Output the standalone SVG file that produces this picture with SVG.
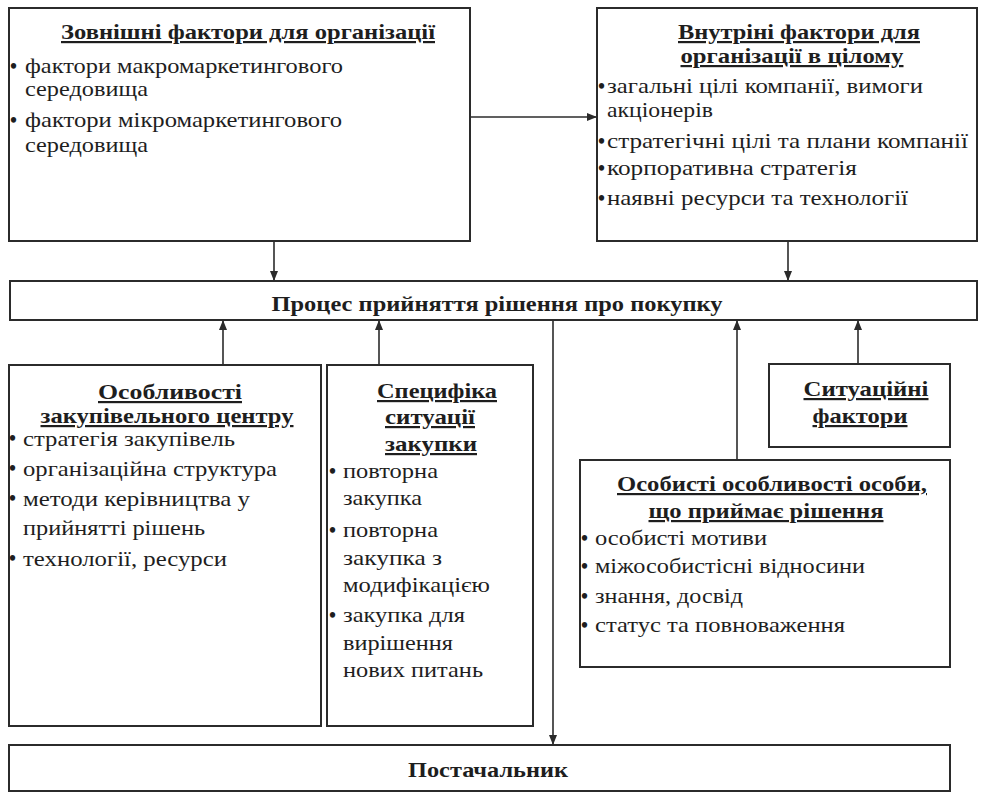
<svg xmlns="http://www.w3.org/2000/svg" width="981" height="792" viewBox="0 0 981 792">
<style>
.box{fill:#fff;stroke:#2b2b2b;stroke-width:2}
.t{font-family:"Liberation Serif","Times New Roman",serif;font-size:22px;fill:#1e1e1e}
.h{font-family:"Liberation Serif","Times New Roman",serif;font-size:22px;font-weight:bold;fill:#1e1e1e;text-decoration:underline;text-anchor:middle}
.b{font-family:"Liberation Serif","Times New Roman",serif;font-size:22px;font-weight:bold;fill:#1e1e1e;text-anchor:middle}
.bul{font-family:"Liberation Serif",serif;font-size:20px;font-weight:bold;fill:#1e1e1e}
.c{fill:none;stroke:#2b2b2b;stroke-width:1.6}
</style>
<defs>
<marker id="ar" markerUnits="userSpaceOnUse" markerWidth="10" markerHeight="10" refX="10" refY="5" orient="auto">
<path d="M0,1 L10,5 L0,9 Z" fill="#2b2b2b"/>
</marker>
</defs>
<rect width="981" height="792" fill="#fff"/>

<g id="connectors">
<path class="c" d="M470,117 H597" marker-end="url(#ar)"/>
<path class="c" d="M274,241 V281" marker-end="url(#ar)"/>
<path class="c" d="M788,241 V281" marker-end="url(#ar)"/>
<path class="c" d="M223,365 V320" marker-end="url(#ar)"/>
<path class="c" d="M379,365 V320" marker-end="url(#ar)"/>
<path class="c" d="M737,460 V320" marker-end="url(#ar)"/>
<path class="c" d="M858,364 V320" marker-end="url(#ar)"/>
<path class="c" d="M553,320 V745" marker-end="url(#ar)"/>
</g>

<g id="external">
<rect class="box" x="9" y="8" width="461" height="233"/>
<text class="h" x="248" y="39" textLength="374" lengthAdjust="spacingAndGlyphs">Зовнішні фактори для організації</text>
<text class="bul" x="10" y="73">•</text>
<text class="t" x="25" y="73" textLength="318" lengthAdjust="spacingAndGlyphs">фактори макромаркетингового</text>
<text class="t" x="25" y="96" textLength="123" lengthAdjust="spacingAndGlyphs">середовища</text>
<text class="bul" x="10" y="127">•</text>
<text class="t" x="25" y="127" textLength="317" lengthAdjust="spacingAndGlyphs">фактори мікромаркетингового</text>
<text class="t" x="25" y="152" textLength="123" lengthAdjust="spacingAndGlyphs">середовища</text>
</g>

<g id="internal">
<rect class="box" x="597" y="8" width="380" height="233"/>
<text class="h" x="799" y="39" textLength="242" lengthAdjust="spacingAndGlyphs">Внутріні фактори для</text>
<text class="h" x="792" y="63" textLength="223" lengthAdjust="spacingAndGlyphs">організації в цілому</text>
<text class="bul" x="598" y="93">•</text>
<text class="t" x="607" y="93" textLength="316" lengthAdjust="spacingAndGlyphs">загальні цілі компанії, вимоги</text>
<text class="t" x="607" y="117" textLength="106" lengthAdjust="spacingAndGlyphs">акціонерів</text>
<text class="bul" x="598" y="148">•</text>
<text class="t" x="607" y="148" textLength="361" lengthAdjust="spacingAndGlyphs">стратегічні цілі та плани компанії</text>
<text class="bul" x="598" y="175">•</text>
<text class="t" x="607" y="175" textLength="250" lengthAdjust="spacingAndGlyphs">корпоративна стратегія</text>
<text class="bul" x="598" y="205">•</text>
<text class="t" x="607" y="205" textLength="301" lengthAdjust="spacingAndGlyphs">наявні ресурси та технології</text>
</g>

<g id="process">
<rect class="box" x="10" y="281" width="967" height="39"/>
<text class="b" x="497" y="311" textLength="451" lengthAdjust="spacingAndGlyphs">Процес прийняття рішення про покупку</text>
</g>

<g id="center">
<rect class="box" x="9" y="365" width="312" height="361"/>
<text class="h" x="170" y="399" textLength="144" lengthAdjust="spacingAndGlyphs">Особливості</text>
<text class="h" x="167" y="423" textLength="253" lengthAdjust="spacingAndGlyphs">закупівельного центру</text>
<text class="bul" x="9" y="445">•</text>
<text class="t" x="23" y="446" textLength="212" lengthAdjust="spacingAndGlyphs">стратегія закупівель</text>
<text class="bul" x="9" y="475">•</text>
<text class="t" x="23" y="476" textLength="254" lengthAdjust="spacingAndGlyphs">організаційна структура</text>
<text class="bul" x="9" y="505">•</text>
<text class="t" x="23" y="506" textLength="227" lengthAdjust="spacingAndGlyphs">методи керівництва у</text>
<text class="t" x="23" y="535" textLength="182" lengthAdjust="spacingAndGlyphs">прийнятті рішень</text>
<text class="bul" x="9" y="565">•</text>
<text class="t" x="23" y="566" textLength="204" lengthAdjust="spacingAndGlyphs">технології, ресурси</text>
</g>

<g id="specific">
<rect class="box" x="327" y="365" width="206" height="361"/>
<text class="h" x="437" y="398" textLength="120" lengthAdjust="spacingAndGlyphs">Специфіка</text>
<text class="h" x="430" y="424" textLength="90" lengthAdjust="spacingAndGlyphs">ситуації</text>
<text class="h" x="431" y="451" textLength="92" lengthAdjust="spacingAndGlyphs">закупки</text>
<text class="bul" x="329" y="478">•</text>
<text class="t" x="343" y="478" textLength="95" lengthAdjust="spacingAndGlyphs">повторна</text>
<text class="t" x="343" y="505" textLength="79" lengthAdjust="spacingAndGlyphs">закупка</text>
<text class="bul" x="329" y="537">•</text>
<text class="t" x="343" y="537" textLength="95" lengthAdjust="spacingAndGlyphs">повторна</text>
<text class="t" x="343" y="565" textLength="99" lengthAdjust="spacingAndGlyphs">закупка з</text>
<text class="t" x="343" y="592" textLength="147" lengthAdjust="spacingAndGlyphs">модифікацією</text>
<text class="bul" x="329" y="622">•</text>
<text class="t" x="343" y="622" textLength="122" lengthAdjust="spacingAndGlyphs">закупка для</text>
<text class="t" x="343" y="650" textLength="110" lengthAdjust="spacingAndGlyphs">вирішення</text>
<text class="t" x="343" y="677" textLength="140" lengthAdjust="spacingAndGlyphs">нових питань</text>
</g>

<g id="situational">
<rect class="box" x="769" y="364" width="181" height="83"/>
<text class="h" x="866" y="396" textLength="125" lengthAdjust="spacingAndGlyphs">Ситуаційні</text>
<text class="h" x="860" y="423" textLength="95" lengthAdjust="spacingAndGlyphs">фактори</text>
</g>

<g id="personal">
<rect class="box" x="580" y="460" width="370" height="207"/>
<text class="h" x="772" y="491" textLength="310" lengthAdjust="spacingAndGlyphs">Особисті особливості особи,</text>
<text class="h" x="766" y="518" textLength="235" lengthAdjust="spacingAndGlyphs">що приймає рішення</text>
<text class="bul" x="581" y="545">•</text>
<text class="t" x="595" y="545" textLength="172" lengthAdjust="spacingAndGlyphs">особисті мотиви</text>
<text class="bul" x="581" y="573">•</text>
<text class="t" x="595" y="573" textLength="270" lengthAdjust="spacingAndGlyphs">міжособистісні відносини</text>
<text class="bul" x="581" y="603">•</text>
<text class="t" x="595" y="603" textLength="148" lengthAdjust="spacingAndGlyphs">знання, досвід</text>
<text class="bul" x="581" y="632">•</text>
<text class="t" x="595" y="632" textLength="250" lengthAdjust="spacingAndGlyphs">статус та повноваження</text>
</g>

<g id="supplier">
<rect class="box" x="9" y="745" width="941" height="46"/>
<text class="b" x="488" y="777" textLength="160" lengthAdjust="spacingAndGlyphs">Постачальник</text>
</g>
</svg>
